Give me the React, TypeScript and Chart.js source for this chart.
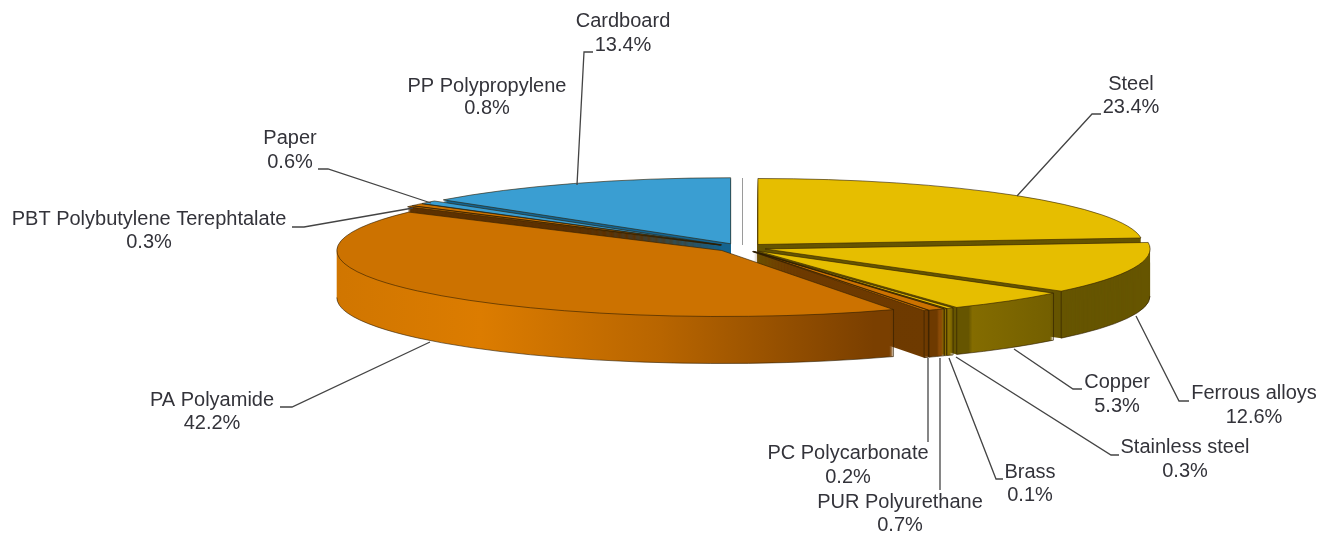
import React, { useEffect, useRef } from "react";
import { Chart, registerables } from "chart.js";

Chart.register(...registerables);

const categories = ["Steel", "Ferrous alloys", "Copper", "Stainless steel", "Brass", "PUR Polyurethane", "PC Polycarbonate", "PA Polyamide", "PBT Polybutylene Terephtalate", "Paper", "PP Polypropylene", "Cardboard"];
const shares = [23.4, 12.6, 5.3, 0.3, 0.1, 0.7, 0.2, 42.2, 0.3, 0.6, 0.8, 13.4];
const families = ["olive", "olive", "copper", "gold", "gold", "rust", "rust", "orange", "umber", "umber", "blue", "blue"];

const topColors: Record<string, string> = { olive: "#E6BE00", copper: "#E6BE00", gold: "#E6BE00", orange: "#CC7200", rust: "#CC7200", umber: "#CC7200", blue: "#3A9ED2" };

const W = 1330, H = 536;
const CX = 741, CY = 247.7, RX = 385, SQUASH = 66 / 385, DEPTH = 47, EXPLODE = 25.2;

// label centre x, first line y, second line y, then leader polyline
const labelLayout: { x: number; y1: number; y2: number; leader: number[][] }[] = [
  { x: 1131, y1: 84, y2: 107, leader: [[1017, 196], [1092, 114], [1101, 114]] },
  { x: 1254, y1: 393, y2: 417, leader: [[1136, 316], [1179, 401], [1189, 401]] },
  { x: 1117, y1: 382, y2: 406, leader: [[1014, 349], [1073, 389], [1082, 389]] },
  { x: 1185, y1: 447, y2: 471, leader: [[956, 357], [1111, 455], [1119, 455]] },
  { x: 1030, y1: 472, y2: 495, leader: [[949, 358], [996, 479], [1003, 479]] },
  { x: 900, y1: 502, y2: 525, leader: [[940, 358], [940, 490]] },
  { x: 848, y1: 453, y2: 477, leader: [[928, 358], [928, 442]] },
  { x: 212, y1: 400, y2: 423, leader: [[430, 342], [292, 407], [280, 407]] },
  { x: 149, y1: 219, y2: 242, leader: [[292, 227], [304, 227], [413, 208]] },
  { x: 290, y1: 138, y2: 162, leader: [[318, 169], [328, 169], [431, 203]] },
  { x: 487, y1: 86, y2: 108, leader: [] },
  { x: 623, y1: 21, y2: 45, leader: [[577, 185], [584, 52], [593, 52]] },
];

function sideFill(ctx: CanvasRenderingContext2D, family: string) {
  if (family === "blue") return "#16648F";
  if (family === "umber") return "#5E3200";
  if (family === "olive") return "#665500";
  if (family === "gold") return "#8A7000";
  const x0 = 338, x1 = 1152;
  const at = (x: number) => (x - x0) / (x1 - x0);
  const g = ctx.createLinearGradient(x0, 0, x1, 0);
  if (family === "orange") {
    g.addColorStop(0, "#CF7500");
    g.addColorStop(at(500), "#DC7C00");
    g.addColorStop(at(680), "#B86500");
    g.addColorStop(at(893), "#7A3F00");
    g.addColorStop(1, "#7A3F00");
  } else if (family === "rust") {
    g.addColorStop(0, "#6A3800");
    g.addColorStop(at(925), "#6E3A00");
    g.addColorStop(at(927), "#8A4A06");
    g.addColorStop(1, "#8A4A06");
  } else {
    g.addColorStop(0, "#665500");
    g.addColorStop(at(952), "#665500");
    g.addColorStop(at(956), "#846C00");
    g.addColorStop(at(1060), "#6E5B00");
    g.addColorStop(1, "#6E5B00");
  }
  return g;
}

const pseudo3d = {
  id: "pseudo3d",
  beforeDatasetsDraw(chart: any) {
    const ctx: CanvasRenderingContext2D = chart.ctx;
    const arcs = chart.getDatasetMeta(0).data;
    const parts = arcs.map((arc: any, i: number) => {
      const p = arc.getProps(["x", "y", "startAngle", "endAngle", "outerRadius"], true);
      const mid = (p.startAngle + p.endAngle) / 2;
      return { arc, p, ex: Math.cos(mid) * EXPLODE, ey: Math.sin(mid) * EXPLODE * SQUASH, base: arc.options, side: sideFill(ctx, families[i]) };
    });
    const paint = (d: number, useSide: boolean) => {
      for (const part of parts) {
        const { arc, p, ex, ey, base, side } = part;
        ctx.save();
        ctx.setTransform(1, 0, 0, SQUASH, ex, p.y * (1 - SQUASH) + ey + d);
        arc.options = useSide ? { ...base, backgroundColor: side } : base;
        arc.draw(ctx);
        arc.options = base;
        ctx.restore();
      }
    };
    for (let d = DEPTH; d >= 1; d--) paint(d, true);
    paint(0, false);

    // outlines stroked without the squash so that they stay even
    ctx.save();
    ctx.setTransform(1, 0, 0, 1, 0, 0);
    for (const { p, ex, ey } of parts) {
      const cx = p.x + ex, cy = p.y + ey;
      const rx = p.outerRadius, ry = rx * SQUASH;
      const at = (a: number) => [cx + Math.cos(a) * rx, cy + Math.sin(a) * ry];
      ctx.strokeStyle = "rgba(45,28,0,0.75)";
      ctx.lineWidth = 0.8;
      ctx.beginPath();
      ctx.moveTo(cx, cy);
      ctx.ellipse(cx, cy, rx, ry, 0, p.startAngle, p.endAngle);
      ctx.closePath();
      ctx.stroke();
      const s = Math.max(p.startAngle, 0), e = Math.min(p.endAngle, Math.PI);
      if (e > s) {
        ctx.beginPath();
        ctx.ellipse(cx, cy + DEPTH, rx, ry, 0, s, e);
        ctx.stroke();
      }
      for (const a of [p.startAngle, p.endAngle]) {
        if (Math.sin(a) > 0) {
          const [x, y] = at(a);
          ctx.beginPath();
          ctx.moveTo(x, y);
          ctx.lineTo(x, y + DEPTH);
          ctx.stroke();
        }
      }
    }
    ctx.strokeStyle = "#9a9a9a";
    ctx.lineWidth = 1;
    ctx.beginPath();
    ctx.moveTo(742.5, 178);
    ctx.lineTo(742.5, 245);
    ctx.stroke();
    ctx.restore();
    return false;
  },
  afterDraw(chart: any) {
    const ctx: CanvasRenderingContext2D = chart.ctx;
    ctx.save();
    ctx.strokeStyle = "#444444";
    ctx.lineWidth = 1.3;
    ctx.fillStyle = "#33333a";
    ctx.font = "20px 'Liberation Sans', Arial, sans-serif";
    ctx.textAlign = "center";
    ctx.textBaseline = "middle";
    categories.forEach((name, i) => {
      const l = labelLayout[i];
      if (l.leader.length) {
        ctx.beginPath();
        l.leader.forEach(([x, y], k) => (k ? ctx.lineTo(x, y) : ctx.moveTo(x, y)));
        ctx.stroke();
      }
      ctx.fillText(name, l.x, l.y1);
      ctx.fillText(shares[i].toFixed(1) + "%", l.x, l.y2);
    });
    ctx.restore();
  },
};

export default function App() {
  const ref = useRef<HTMLCanvasElement>(null);
  useEffect(() => {
    document.body.style.margin = "0";
    const chart = new Chart(ref.current!, {
      type: "pie",
      data: {
        labels: categories,
        datasets: [{
          data: shares,
          backgroundColor: families.map((f) => topColors[f]),
          borderWidth: 0,
          hoverOffset: 0,
        }],
      },
      options: {
        responsive: false,
        animation: false,
        radius: RX,
        layout: { padding: { left: 2 * CX - W, right: 0, top: 0, bottom: H - 2 * CY } },
        plugins: { legend: { display: false }, tooltip: { enabled: false } },
      } as any,
      plugins: [pseudo3d as any],
    });
    return () => chart.destroy();
  }, []);
  return <canvas ref={ref} width={W} height={H} style={{ display: "block", position: "absolute", left: 0, top: 0 }} />;
}
